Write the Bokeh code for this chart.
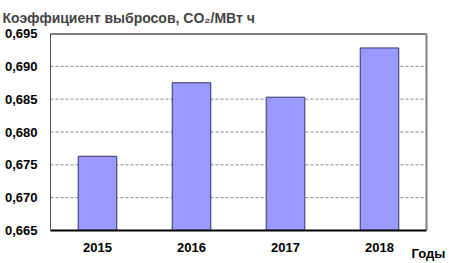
from bokeh.plotting import figure
from bokeh.models import Range1d, FixedTicker, CustomJSTickFormatter, ColumnDataSource
from bokeh.embed import file_html
from bokeh.resources import INLINE

years = ["2015", "2016", "2017", "2018"]
values = [0.6763, 0.6875, 0.6853, 0.6928]
y_ticks = [0.665, 0.670, 0.675, 0.680, 0.685, 0.690, 0.695]
title_text = "Коэффициент выбросов, CO₂/МВт ч"
x_label = "Годы"

n = len(years)
xpos = [i + 0.5 for i in range(n)]
src = ColumnDataSource(dict(x=xpos, values=values))

W, H = 449, 263
left, right_plot = 50, 426          # plotted category area in pixels
frame_right = 428                   # axis label "Годы" is centred on the frame's right end
x_end = n * (frame_right - left) / (right_plot - left)

p = figure(width=W, height=H, output_backend="svg", toolbar_location=None,
           x_range=Range1d(0, x_end), y_range=Range1d(y_ticks[0], y_ticks[-1]),
           min_border_left=left, min_border_right=W - frame_right,
           min_border_bottom=31, min_border_top=31)

p.title.text = title_text
p.title.text_font = "Liberation Sans"
p.title.text_font_size = "14px"
p.title.text_font_style = "bold"
p.title.align = "left"
p.title.offset = -48
p.title.standoff = 15

# grid lines and frame edges limited to the category area
grid_y = y_ticks[1:-1]
p.segment(x0=[0] * len(grid_y), x1=[n] * len(grid_y), y0=grid_y, y1=grid_y,
          line_color="#888888", line_dash="3 2", line_width=1)
p.segment(x0=[0], x1=[n], y0=[y_ticks[-1]], y1=[y_ticks[-1]], line_color="black", line_width=2)
p.segment(x0=[n], x1=[n], y0=[y_ticks[0]], y1=[y_ticks[-1]], line_color="#808080", line_width=2)

p.vbar(x="x", top="values", bottom=y_ticks[0], width=0.41, source=src,
       fill_color="#9999FF", line_color="#333366", line_width=1)

p.background_fill_color = "white"
p.border_fill_color = "white"
p.outline_line_color = None
p.xgrid.grid_line_color = None
p.ygrid.grid_line_color = None

p.yaxis.ticker = FixedTicker(ticks=y_ticks)
p.yaxis.formatter = CustomJSTickFormatter(code="return tick.toFixed(3).replace('.', ',');")
p.yaxis.axis_line_color = "#555555"
p.yaxis.major_label_standoff = 13

p.xaxis.ticker = FixedTicker(ticks=xpos)
p.xaxis.formatter = CustomJSTickFormatter(args=dict(names=years),
                                          code="return names[Math.round(tick - 0.5)];")
p.xaxis.bounds = (0, n)
p.xaxis.axis_line_color = "black"
p.xaxis.axis_line_width = 2
p.xaxis.major_label_standoff = 12
p.xaxis.axis_label = x_label
p.xaxis.axis_label_align = "end"
p.xaxis.axis_label_standoff = -9
p.xaxis.axis_label_text_font = "Liberation Sans"
p.xaxis.axis_label_text_font_size = "13px"
p.xaxis.axis_label_text_font_style = "bold"
p.xaxis.axis_label_text_color = "black"

for ax in (p.xaxis[0], p.yaxis[0]):
    ax.major_tick_line_color = None
    ax.minor_tick_line_color = None
    ax.major_tick_in = 0
    ax.major_tick_out = 0
    ax.minor_tick_in = 0
    ax.minor_tick_out = 0
    ax.major_label_text_font = "Liberation Sans"
    ax.major_label_text_font_size = "13px"
    ax.major_label_text_font_style = "bold"
    ax.major_label_text_color = "black"

open("out.html", "w").write(file_html(p, INLINE))
